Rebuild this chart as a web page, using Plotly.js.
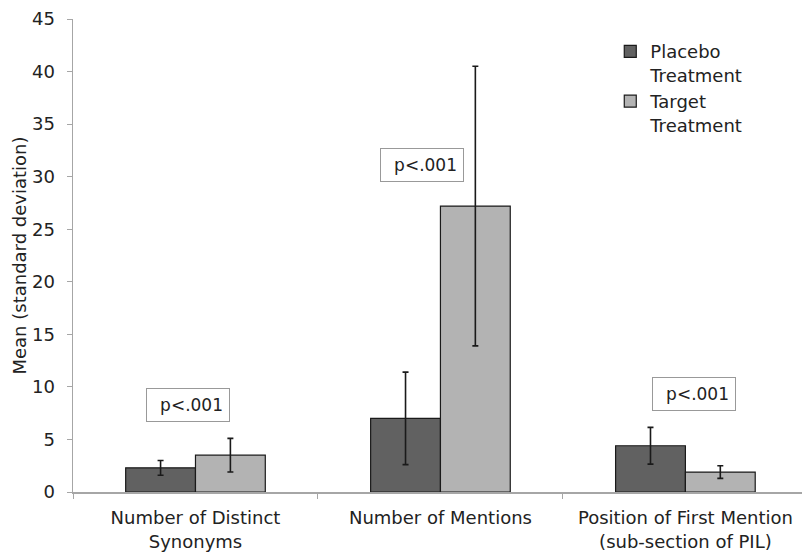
<!DOCTYPE html>
<html>
<head>
<meta charset="utf-8">
<script src="https://cdn.plot.ly/plotly-3.0.1.min.js"></script>
<style>html,body{margin:0;padding:0;background:#fff;}#chart{width:802px;height:554px;}</style>
</head>
<body>
<div id="chart"></div>
<script>
var categories = ["Number of Distinct<br>Synonyms", "Number of Mentions", "Position of First Mention<br>(sub-section of PIL)"];
var placeboMean = [2.3, 7.0, 4.4];
var placeboSD = [0.7, 4.4, 1.75];
var targetMean = [3.5, 27.2, 1.9];
var targetSD = [1.6, 13.3, 0.6];
var seriesNames = ["Placebo<br>Treatment", "Target<br>Treatment"];
var pLabels = ["p<.001", "p<.001", "p<.001"];
var pLabelY = [8.3, 31.1, 9.3];
var pLabelX = [-0.03, 0.925, 2.035];

var font = "DejaVu Sans, Verdana, sans-serif";
var errStyle = {type: "data", visible: true, color: "#1a1a1a", thickness: 1.6, width: 3};

var traces = [
  {type: "bar", name: seriesNames[0], x: categories, y: placeboMean,
   error_y: Object.assign({array: placeboSD}, errStyle),
   marker: {color: "#616161", line: {color: "#1a1a1a", width: 1.2}}},
  {type: "bar", name: seriesNames[1], x: categories, y: targetMean,
   error_y: Object.assign({array: targetSD}, errStyle),
   marker: {color: "#b3b3b3", line: {color: "#1a1a1a", width: 1.2}}}
];

var annotations = pLabels.map(function(t, i) {
  return {x: pLabelX[i], xref: "x", y: pLabelY[i], yref: "y", text: t, showarrow: false,
          font: {family: font, size: 17, color: "#222"}, bordercolor: "#999", borderwidth: 1,
          borderpad: 6, width: 70, align: "right", bgcolor: "#fff"};
});

var layout = {
  width: 802, height: 554,
  margin: {l: 73, r: 0, t: 19, b: 62},
  paper_bgcolor: "#fff", plot_bgcolor: "#fff",
  barmode: "group", bargap: 0.43, bargroupgap: 0,
  font: {family: font, size: 17, color: "#222"},
  showlegend: true,
  legend: {x: 0.737, y: 0.97, xanchor: "left", yanchor: "top", bgcolor: "rgba(0,0,0,0)",
           font: {family: font, size: 18, color: "#222"}, valign: "top", itemwidth: 30},
  xaxis: {type: "category", range: [-0.5, 2.476], showline: true, linecolor: "#a6a6a6", linewidth: 1.5,
          ticks: "outside", tickson: "boundaries", ticklen: 5, tickcolor: "#a6a6a6",
          ticklabelstandoff: 9,
          tickfont: {family: font, size: 18, color: "#222"}, showgrid: false, zeroline: false},
  yaxis: {range: [0, 45], dtick: 5, showline: true, linecolor: "#a6a6a6", linewidth: 1.5,
          ticks: "outside", ticklen: 5, tickcolor: "#a6a6a6", showgrid: false, zeroline: false,
          ticklabelstandoff: 8,
          tickfont: {family: font, size: 18, color: "#222"},
          title: {text: "Mean (standard deviation)", font: {family: font, size: 18, color: "#222"}, standoff: 0}},
  annotations: annotations
};

Plotly.newPlot("chart", traces, layout, {displayModeBar: false, staticPlot: true});
</script>
</body>
</html>
